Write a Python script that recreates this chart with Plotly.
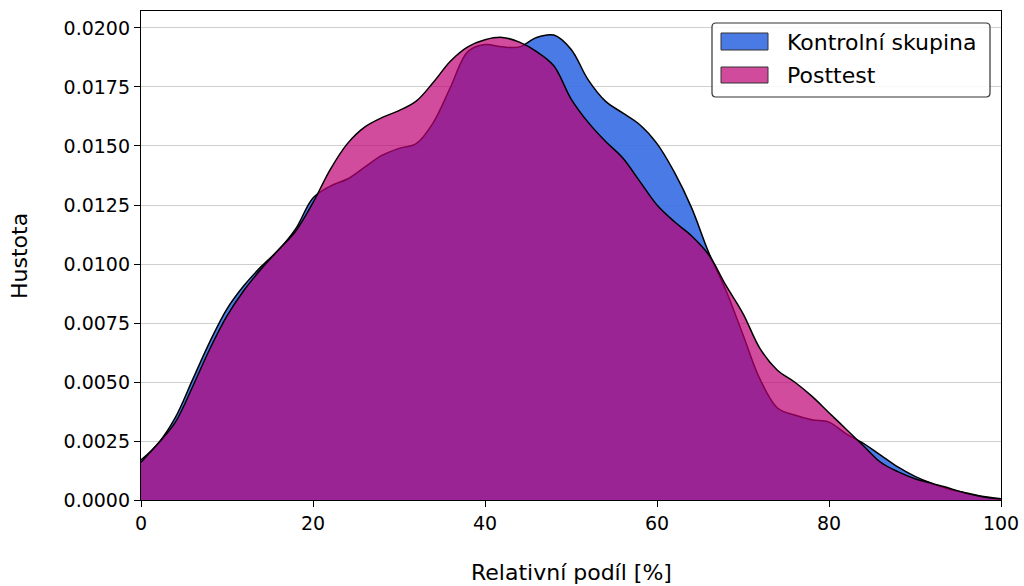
import plotly.graph_objects as go

# ---- data (density estimates) ----
x_vals = [0, 2, 4, 6, 8, 10, 12, 14, 16, 18, 20, 22, 24, 26, 28, 30, 32, 34, 36, 38,
          40, 42, 44, 46, 48, 50, 52, 54, 56, 58, 60, 62, 64, 66, 68, 70, 72, 74, 76, 78,
          80, 82, 84, 86, 88, 90, 92, 94, 96, 98, 100]

kontrolni = [0.0017, 0.0024, 0.0035, 0.0051, 0.0067, 0.0081, 0.0091, 0.0099, 0.0106, 0.0115,
             0.0128, 0.0133, 0.0136, 0.0141, 0.0146, 0.0149, 0.0151, 0.0160, 0.0175, 0.0190,
             0.0193, 0.0192, 0.0192, 0.0196, 0.0197, 0.0191, 0.0178, 0.0169, 0.0164, 0.0159,
             0.0151, 0.0139, 0.0124, 0.0105, 0.0089, 0.0070, 0.0051, 0.0039, 0.0036, 0.0034,
             0.0033, 0.0028, 0.0024, 0.0019, 0.0014, 0.0010, 0.0007, 0.00045, 0.0003, 0.00015,
             0.00005]

posttest = [0.0016, 0.0024, 0.0033, 0.0048, 0.0064, 0.0078, 0.0089, 0.0098, 0.0106, 0.0114,
            0.0126, 0.0140, 0.0151, 0.0158, 0.0162, 0.0165, 0.0169, 0.0177, 0.0186, 0.0192,
            0.0195, 0.0196, 0.0194, 0.0190, 0.0184, 0.0170, 0.0160, 0.0152, 0.0145, 0.0135,
            0.0125, 0.0118, 0.0112, 0.0104, 0.0091, 0.0079, 0.0064, 0.0055, 0.0050, 0.0044,
            0.0037, 0.0030, 0.0023, 0.0016, 0.0012, 0.0009, 0.0007, 0.0005, 0.00028, 0.00013,
            0.00005]

series_names = ["Kontrolní skupina", "Posttest"]
x_ticks = [0, 20, 40, 60, 80, 100]
y_ticks = [0.0, 0.0025, 0.005, 0.0075, 0.01, 0.0125, 0.015, 0.0175, 0.02]

FONT = "DejaVu Sans"
BLUE_FILL = "rgba(54,108,226,0.9)"
PINK_FILL = "rgba(189,0,114,0.7)"
BLUE_SWATCH = "rgb(74,123,229)"
PINK_SWATCH = "rgb(209,75,156)"

fig = go.Figure()
fig.add_trace(go.Scatter(
    x=x_vals, y=kontrolni, name=series_names[0], mode="lines",
    line=dict(color="black", width=1.5, shape="spline", smoothing=1.0),
    fill="tozeroy", fillcolor=BLUE_FILL, showlegend=False))
fig.add_trace(go.Scatter(
    x=x_vals, y=posttest, name=series_names[1], mode="lines",
    line=dict(color="black", width=1.5, shape="spline", smoothing=1.0),
    fill="tozeroy", fillcolor=PINK_FILL, showlegend=False))

# plot-area geometry (pixels)
L, R, T, B = 141, 1001, 11, 500
W, H = R - L, B - T


def px(xp):
    return (xp - L) / W


def py(yp):
    return (B - yp) / H


# legend box (rounded)
x0, x1, y0, y1 = px(712), px(990), py(23), py(97)
rx, ry = 4 / W, 4 / H
path = (f"M {x0+rx},{y0} L {x1-rx},{y0} Q {x1},{y0} {x1},{y0-ry} "
        f"L {x1},{y1+ry} Q {x1},{y1} {x1-rx},{y1} L {x0+rx},{y1} "
        f"Q {x0},{y1} {x0},{y1+ry} L {x0},{y0-ry} Q {x0},{y0} {x0+rx},{y0} Z")
shapes = [dict(type="path", xref="paper", yref="paper", path=path,
               fillcolor="rgba(255,255,255,0.85)", line=dict(color="#333333", width=1.2))]
swatches = [(BLUE_SWATCH, 33, 50, 42), (PINK_SWATCH, 67, 83, 75)]
annotations = []
for (col, ya, yb, yc), name in zip(swatches, series_names):
    shapes.append(dict(type="rect", xref="paper", yref="paper",
                       x0=px(721), x1=px(768), y0=py(yb), y1=py(ya),
                       fillcolor=col, line=dict(color="#333333", width=1)))
    annotations.append(dict(xref="paper", yref="paper", x=px(785), y=py(yc),
                            text=name, showarrow=False, xanchor="left", yanchor="middle",
                            font=dict(family=FONT, size=22, color="black")))

# axis titles
annotations.append(dict(xref="paper", yref="paper", x=px(571), y=py(572),
                        text="Relativní podíl [%]", showarrow=False,
                        xanchor="center", yanchor="middle",
                        font=dict(family=FONT, size=22, color="black")))
annotations.append(dict(xref="paper", yref="paper", x=px(20), y=py(256),
                        text="Hustota", showarrow=False, textangle=-90,
                        xanchor="center", yanchor="middle",
                        font=dict(family=FONT, size=22, color="black")))

fig.update_layout(
    width=1024, height=586,
    margin=dict(l=L, r=1024 - R, t=T, b=586 - B, pad=0, autoexpand=False),
    paper_bgcolor="white", plot_bgcolor="white",
    font=dict(family=FONT, size=19, color="black"),
    shapes=shapes, annotations=annotations,
    xaxis=dict(range=[0, 100], tickvals=x_ticks, ticktext=[str(v) for v in x_ticks],
               showgrid=False, zeroline=False, automargin=False,
               showline=True, linecolor="black", linewidth=1.3, mirror=True,
               ticks="outside", ticklen=6, tickwidth=1.3, tickcolor="black",
               tickfont=dict(family=FONT, size=19, color="black")),
    yaxis=dict(range=[0, 0.02072], tickvals=y_ticks,
               ticktext=[f"{v:.4f}" for v in y_ticks],
               showgrid=True, gridcolor="#cfcfcf", gridwidth=1.2, zeroline=False,
               automargin=False,
               showline=True, linecolor="black", linewidth=1.3, mirror=True,
               ticks="outside", ticklen=6, tickwidth=1.3, tickcolor="black",
               tickfont=dict(family=FONT, size=19, color="black")),
)

fig.write_html("out.html")
